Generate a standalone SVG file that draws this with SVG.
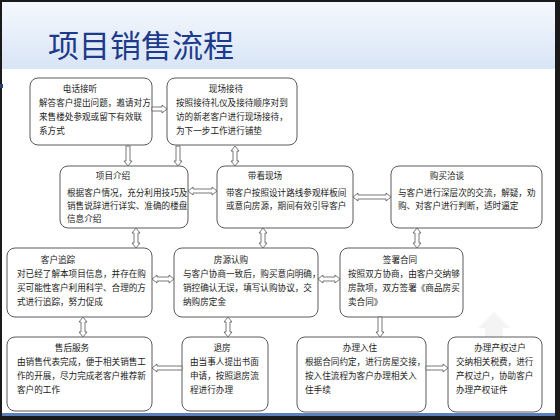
<svg xmlns="http://www.w3.org/2000/svg" width="560" height="420" viewBox="0 0 560 420">
<defs>
<linearGradient id="hdr" x1="0" y1="0" x2="0" y2="1">
<stop offset="0" stop-color="#f5f8fd"/>
<stop offset="1" stop-color="#d8e5f6"/>
</linearGradient>
</defs>
<style>
.box{fill:#fff;stroke:#5a5a5a;stroke-width:1}
.t{font-family:"Noto Sans CJK SC","Liberation Sans",sans-serif;font-size:8.6px;fill:#1a1a1a}
.c{text-anchor:middle}
.arr{fill:#fff;stroke:#555;stroke-width:0.8;stroke-linejoin:miter}
.title{font-family:"Noto Sans CJK SC","Liberation Sans",sans-serif;font-size:31px;fill:#1e3a8a}
</style>
<rect x="0" y="0" width="560" height="420" fill="#1a1a1a"/>
<rect x="2" y="2" width="553" height="411" fill="#fff"/>
<rect x="2" y="2" width="553" height="67" fill="url(#hdr)"/>
<rect x="2" y="413" width="553" height="3" fill="#5b80bd"/>
<rect x="0" y="84" width="3" height="4" fill="#2a3f6a"/>
<text class="title" x="48" y="57">项目销售流程</text>
<polygon points="494,312 510,328 503,328 503,352 485,352 485,328 478,328" fill="#e6e6e6" opacity="0.45"/>

<g id="n1"><rect class="box" x="30" y="78" width="122" height="67" rx="8"/>
<text class="t c" x="80" y="92">电话接听</text>
<text class="t" x="39" y="106">解答客户提出问题，邀请对方</text>
<text class="t" x="39" y="120">来售楼处参观或留下有效联</text>
<text class="t" x="39" y="134">系方式</text></g>

<g id="n2"><rect class="box" x="167" y="78" width="130" height="67" rx="8"/>
<text class="t c" x="226" y="92">现场接待</text>
<text class="t" x="176" y="106">按照接待礼仪及接待顺序对到</text>
<text class="t" x="176" y="120">访的新老客户进行现场接待，</text>
<text class="t" x="176" y="134">为下一步工作进行铺垫</text></g>

<g id="n3"><rect class="box" x="60" y="166" width="128" height="62" rx="8"/>
<text class="t c" x="113" y="179">项目介绍</text>
<text class="t" x="67" y="196">根据客户情况，充分利用技巧及</text>
<text class="t" x="67" y="209">销售说辞进行详实、准确的楼盘</text>
<text class="t" x="67" y="222">信息介绍</text></g>

<g id="n4"><rect class="box" x="217" y="166" width="136" height="62" rx="8"/>
<text class="t c" x="265" y="179">带看现场</text>
<text class="t" x="226" y="196">带客户按照设计路线参观样板间</text>
<text class="t" x="226" y="209">或意向房源，期间有效引导客户</text></g>

<g id="n5"><rect class="box" x="391" y="166" width="151" height="62" rx="8"/>
<text class="t c" x="447" y="179">购买洽谈</text>
<text class="t" x="398" y="196">与客户进行深层次的交流，解疑，劝</text>
<text class="t" x="398" y="209">购、对客户进行判断，适时逼定</text></g>

<g id="n6"><rect class="box" x="7" y="248" width="145" height="69" rx="8"/>
<text class="t c" x="58" y="263">客户追踪</text>
<text class="t" x="17" y="277">对已经了解本项目信息，并存在购</text>
<text class="t" x="17" y="291">买可能性客户利用科学、合理的方</text>
<text class="t" x="17" y="305">式进行追踪，努力促成</text></g>

<g id="n7"><rect class="box" x="174" y="248" width="144" height="69" rx="8"/>
<text class="t c" x="231" y="263">房源认购</text>
<text class="t" x="183" y="277">与客户协商一致后，购买意向明确，</text>
<text class="t" x="183" y="291">销控确认无误，填写认购协议，交</text>
<text class="t" x="183" y="305">纳购房定金</text></g>

<g id="n8"><rect class="box" x="340" y="248" width="123" height="69" rx="8"/>
<text class="t c" x="400" y="263">签署合同</text>
<text class="t" x="348" y="277">按照双方协商，由客户交纳够</text>
<text class="t" x="348" y="291">房款项，双方签署《商品房买</text>
<text class="t" x="348" y="305">卖合同》</text></g>

<g id="n9"><rect class="box" x="7" y="337" width="145" height="74" rx="8"/>
<text class="t c" x="72" y="351">售后服务</text>
<text class="t" x="17" y="365">由销售代表完成，便于相关销售工</text>
<text class="t" x="17" y="379">作的开展，尽力完成老客户推荐新</text>
<text class="t" x="17" y="393">客户的工作</text></g>

<g id="n10"><rect class="box" x="182" y="337" width="86" height="74" rx="8"/>
<text class="t c" x="222" y="351">退房</text>
<text class="t" x="190" y="365">由当事人提出书面</text>
<text class="t" x="190" y="379">申请，按照退房流</text>
<text class="t" x="190" y="393">程进行办理</text></g>

<g id="n11"><rect class="box" x="297" y="337" width="129" height="75" rx="8"/>
<text class="t c" x="360" y="351">办理入住</text>
<text class="t" x="305" y="365">根据合同约定，进行房屋交接，</text>
<text class="t" x="305" y="379">按入住流程为客户办理相关入</text>
<text class="t" x="305" y="393">住手续</text></g>

<g id="n12"><rect class="box" x="448" y="337" width="94" height="75" rx="8"/>
<text class="t c" x="500" y="351">办理产权过户</text>
<text class="t" x="456" y="365">交纳相关税费，进行</text>
<text class="t" x="456" y="379">产权过户，协助客户</text>
<text class="t" x="456" y="393">办理产权证件</text></g>

<g id="connectors">
<polygon class="arr" points="152,107 162,107 162,105 167,109 162,113 162,111 152,111"/>
<polygon class="arr" points="126,146 130,146 130,161 132,161 128,166 124,161 126,161"/>
<polygon class="arr" points="176,146 180,146 180,161 182,161 178,166 174,161 176,161"/>
<polygon class="arr" points="235,146 239,151 237,151 237,161 239,161 235,166 231,161 233,161 233,151 231,151"/>
<polygon class="arr" points="188,191 193,187 193,189 212,189 212,187 217,191 212,195 212,193 193,193 193,195"/>
<polygon class="arr" points="353,197 358,193 358,195 386,195 386,193 391,197 386,201 386,199 358,199 358,201"/>
<polygon class="arr" points="136,228 140,233 138,233 138,243 140,243 136,248 132,243 134,243 134,233 132,233"/>
<polygon class="arr" points="263,228 267,233 265,233 265,243 267,243 263,248 259,243 261,243 261,233 259,233"/>
<polygon class="arr" points="417,228 421,233 419,233 419,243 421,243 417,248 413,243 415,243 415,233 413,233"/>
<polygon class="arr" points="152,279 157,275 157,277 169,277 169,275 174,279 169,283 169,281 157,281 157,283"/>
<polygon class="arr" points="318,279 323,275 323,277 335,277 335,275 340,279 335,283 335,281 323,281 323,283"/>
<polygon class="arr" points="83,317 87,322 85,322 85,332 87,332 83,337 79,332 81,332 81,322 79,322"/>
<polygon class="arr" points="228,317 232,322 230,322 230,332 232,332 228,337 224,332 226,332 226,322 224,322"/>
<polygon class="arr" points="378,317 382,317 382,332 384,332 380,337 376,332 378,332"/>
<polygon class="arr" points="182,366 157,366 157,364 152,368 157,372 157,370 182,370"/>
<polygon class="arr" points="426,366 443,366 443,364 448,368 443,372 443,370 426,370"/>
</g>
</svg>
